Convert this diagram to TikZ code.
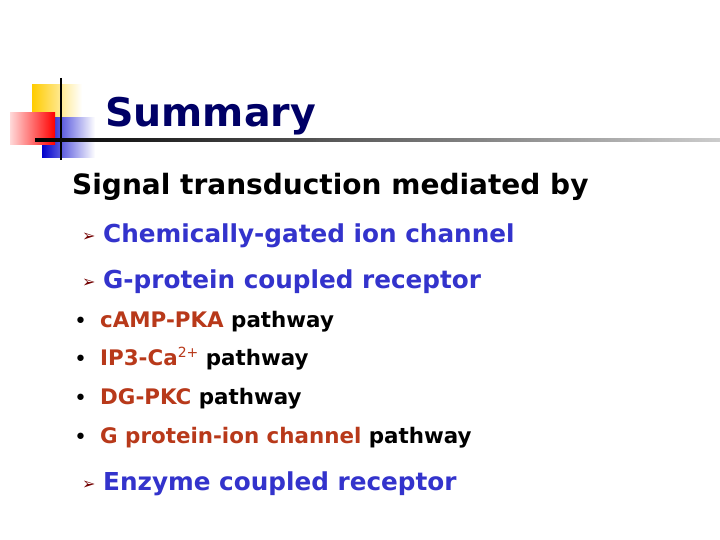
\documentclass[tikz,border=0pt]{standalone}
\usepackage{fontspec}
\setmainfont{DejaVu Sans}
\begin{document}
\begin{tikzpicture}[x=1pt,y=-1pt,
  txt/.style={anchor=base west,inner sep=0pt,font=\bfseries},
  arr/.style={anchor=base west,inner sep=0pt,font=\fontsize{16}{16}\selectfont,text=red!45!black},
  dot/.style={anchor=base west,inner sep=0pt,font=\fontsize{22}{22}\selectfont}]
\definecolor{navy}{HTML}{000066}
\definecolor{iblue}{HTML}{3333CC}
\definecolor{rbrown}{HTML}{B8391A}
\definecolor{gold}{HTML}{FFCC00}
\useasboundingbox (0,0) rectangle (720,540);
\fill[white] (0,0) rectangle (720,540);
% decoration
\shade[left color=gold,right color=white] (32,85) rectangle (82,120);
\shade[left color=blue!80!black,right color=white] (42,118) rectangle (95,158);
\shade[left color=red!15,right color=red] (10,113) rectangle (55,145);
\draw[line width=1.8pt] (61,78) -- (61,160);
\shade[left color=black,right color=gray!40] (35,139) rectangle (720,141.5);
\node[txt,text=navy,font=\fontsize{39.5}{40}\selectfont\bfseries] (title) at (105,127) {Summary};
\node[txt,font=\fontsize{28}{28}\selectfont\bfseries] (head) at (72,195) {Signal transduction mediated by};
\node[arr] (a1) at (82,241) {➢};
\node[txt,text=iblue,font=\fontsize{24.7}{25}\selectfont\bfseries] (t1) at (103,242) {Chemically-gated ion channel};
\node[arr] (a2) at (82,287) {➢};
\node[txt,text=iblue,font=\fontsize{24.7}{25}\selectfont\bfseries] (t2) at (103,288) {G-protein coupled receptor};
\node[dot] (b1) at (74,328) {•};
\node[txt,font=\fontsize{21.4}{22}\selectfont\bfseries] (s1) at (100,327) {\textcolor{rbrown}{cAMP-PKA} pathway};
\node[dot] (b2) at (74,366) {•};
\node[txt,font=\fontsize{21.4}{22}\selectfont\bfseries] (s2) at (100,365) {\textcolor{rbrown}{IP3-Ca}{\mdseries\fontsize{14}{14}\selectfont\raisebox{8pt}{\textcolor{rbrown}{2+}}} pathway};
\node[dot] (b3) at (74,405) {•};
\node[txt,font=\fontsize{21.4}{22}\selectfont\bfseries] (s3) at (100,404) {\textcolor{rbrown}{DG-PKC} pathway};
\node[dot] (b4) at (74,444) {•};
\node[txt,font=\fontsize{21.4}{22}\selectfont\bfseries] (s4) at (100,443) {\textcolor{rbrown}{G protein-ion channel} pathway};
\node[arr] (a3) at (82,489) {➢};
\node[txt,text=iblue,font=\fontsize{24.7}{25}\selectfont\bfseries] (t3) at (103,490) {Enzyme coupled receptor};
\end{tikzpicture}
\end{document}
